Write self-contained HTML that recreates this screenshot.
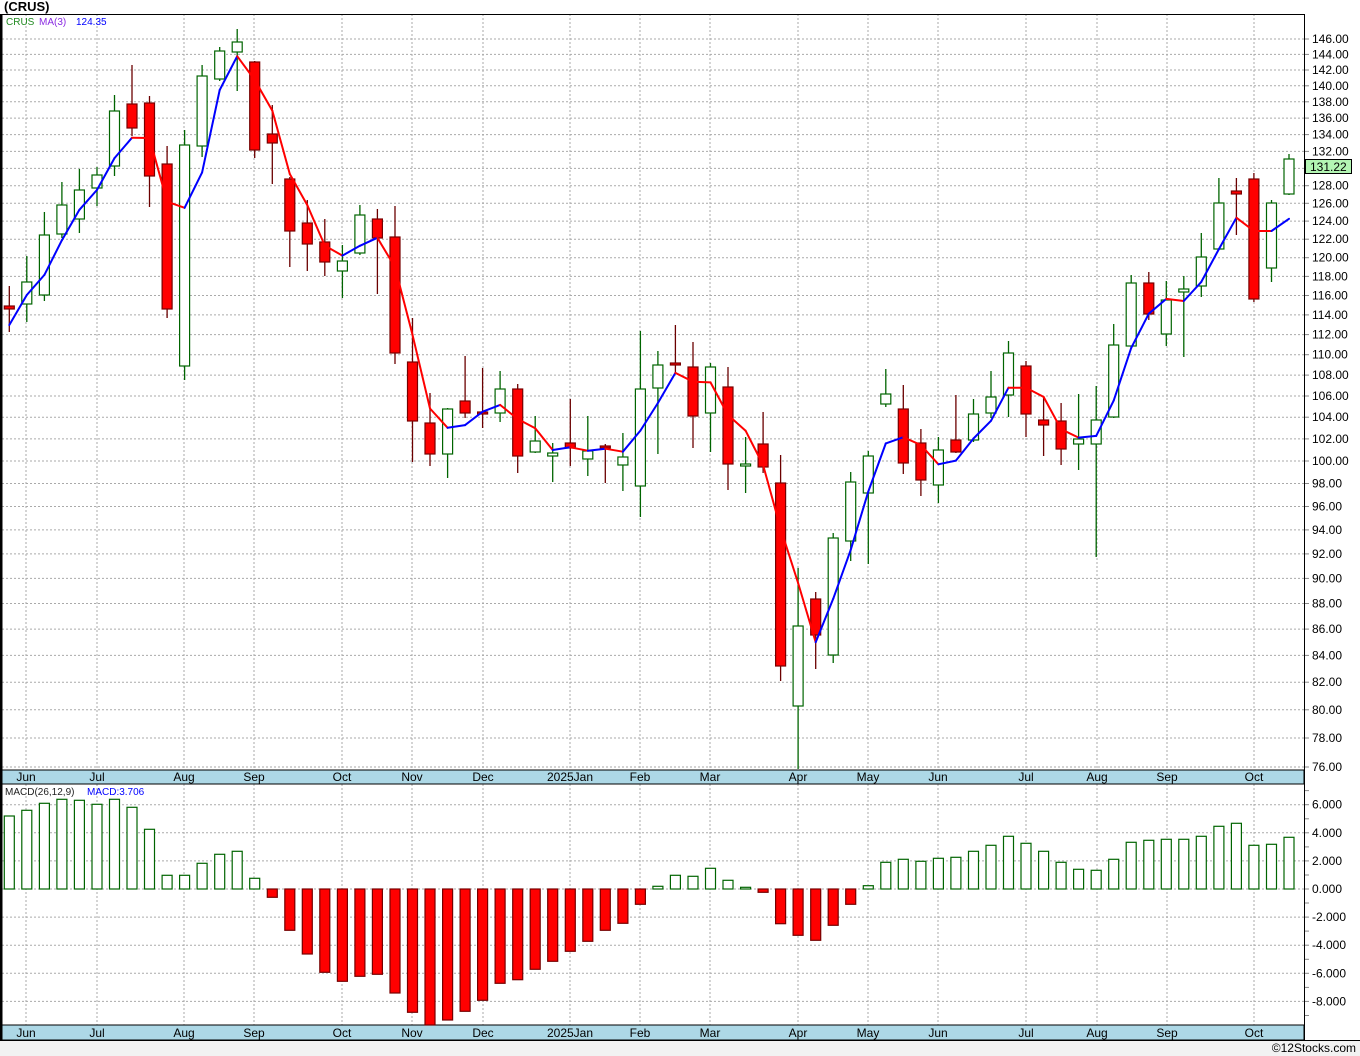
<!DOCTYPE html>
<html><head><meta charset="utf-8"><style>
html,body{margin:0;padding:0;background:#fff;}
svg{display:block;font-family:"Liberation Sans",sans-serif;}
</style></head><body>
<svg id="s" width="1360" height="1056" xmlns="http://www.w3.org/2000/svg"></svg>
<script>
const S=document.getElementById('s');let h='';
h+='<rect x="0" y="0" width="1360" height="1056" fill="#fff"/>';
h+='<rect x="0" y="1041" width="1360" height="15" fill="#f2f2f2"/>';
h+='<text x="1356" y="1052" font-size="12" text-anchor="end" fill="#000">©12Stocks.com</text>';
h+='<text x="4" y="11" font-size="13" font-weight="bold" fill="#000">(CRUS)</text>';
const P=p=>39+1115*Math.log(146/p);
const M=v=>889-14.05*v;
const months=[[26,'Jun'],[97,'Jul'],[184,'Aug'],[254,'Sep'],[342,'Oct'],[412,'Nov'],[483,'Dec'],[570,'2025Jan'],[640,'Feb'],[710,'Mar'],[798,'Apr'],[868,'May'],[938,'Jun'],[1026,'Jul'],[1097,'Aug'],[1167,'Sep'],[1254,'Oct']];
// grids
for(let p=76;p<=146;p+=2){const y=P(p).toFixed(1);h+=`<line x1="2" x2="1304" y1="${y}" y2="${y}" stroke="#aaa" stroke-dasharray="2,2"/>`;
h+=`<line x1="1304" x2="1309" y1="${y}" y2="${y}" stroke="#888"/><text x="1312" y="${(+y+4).toFixed(1)}" font-size="12" fill="#000">${p.toFixed(2)}</text>`;}
for(let v=-8;v<=6;v+=2){const y=M(v).toFixed(1);h+=`<line x1="2" x2="1304" y1="${y}" y2="${y}" stroke="#aaa" stroke-dasharray="2,2"/>`;
h+=`<line x1="1304" x2="1309" y1="${y}" y2="${y}" stroke="#888"/><text x="1312" y="${(+y+4).toFixed(1)}" font-size="12" fill="#000">${v.toFixed(3)}</text>`;}
for(let v=-9;v<=7;v+=2){const y=M(v).toFixed(1);h+=`<line x1="1304" x2="1309" y1="${y}" y2="${y}" stroke="#888"/>`;}
months.forEach(m=>{h+=`<line x1="${m[0]}" x2="${m[0]}" y1="14" y2="769" stroke="#aaa" stroke-dasharray="2,2"/><line x1="${m[0]}" x2="${m[0]}" y1="784" y2="1025" stroke="#aaa" stroke-dasharray="2,2"/>`;});
// strips
[[770,784],[1025,1040]].forEach(r=>{h+=`<rect x="2" y="${r[0]}" width="1302" height="${r[1]-r[0]}" fill="#add8e6" stroke="#000" stroke-width="1"/>`;
months.forEach(m=>{h+=`<text x="${m[0]}" y="${r[1]-3}" font-size="12" text-anchor="middle" fill="#000">${m[1]}</text>`;});});
h+='<line x1="1304.5" x2="1304.5" y1="14" y2="1040" stroke="#000"/>';
h+='<line x1="2" x2="1304" y1="14.5" y2="14.5" stroke="#000"/>';
h+='<rect x="0" y="14" width="2.5" height="1027" fill="#000"/>';
h+='<line x1="0" x2="1360" y1="1040.5" y2="1040.5" stroke="#000"/>';
const C=[[286,306,309,332,'r'],[256,282,304,322,'g'],[212,235,295,301,'g'],[182,205,234,238,'g'],[169,190,219,233,'g'],[167,175,188,206,'g'],[95,111,166,176,'g'],[65,104,128,136,'r'],[96,103,176,207,'r'],[146,164,309,318,'r'],[130,145,366,380,'g'],[65,76,146,157,'g'],[47,51,79,81,'g'],[29,42,52,91,'g'],[61,62,150,158,'r'],[105,134,143,184,'r'],[177,179,231,267,'r'],[200,223,244,271,'r'],[219,242,262,276,'r'],
[245,261,271,298,'g'],[205,215,253,255,'g'],[209,219,238,294,'r'],[206,237,353,364,'r'],[318,362,421,462,'r'],[393,423,454,466,'r'],[408,409,454,478,'g'],[356,401,413,418,'r'],[368,412,413,428,'r'],[371,389,413,422,'g'],[384,389,456,473,'r'],[416,441,452,453,'g'],[443,453,456,482,'g'],[399,443,448,466,'r'],[416,451,459,476,'g'],[444,446,447,483,'r'],[433,457,465,491,'g'],[331,389,486,517,'g'],[351,365,388,454,'g'],
[325,363,365,373,'r'],[342,367,416,448,'r'],[363,367,413,452,'g'],[367,387,464,490,'r'],[437,464,466,493,'g'],[412,444,467,473,'r'],[455,483,666,681,'r'],[568,626,706,769,'g'],[592,599,635,669,'r'],[533,538,655,663,'g'],[472,482,541,561,'g'],[451,456,493,564,'g'],[369,394,404,407,'g'],[385,409,463,474,'r'],[429,443,480,496,'r'],[437,450,485,503,'g'],[395,440,452,453,'r'],[399,414,440,442,'g'],[371,397,413,418,'g'],
[341,353,395,417,'g'],[361,366,414,437,'r'],[397,420,425,456,'r'],[403,421,449,465,'r'],[394,439,444,470,'g'],[386,420,444,557,'g'],[324,345,417,418,'g'],[275,283,346,347,'g'],[272,283,314,320,'r'],[281,300,334,346,'g'],[276,289,292,357,'g'],[233,257,286,297,'g'],[178,203,249,250,'g'],[178,191,194,235,'r'],[173,179,299,302,'r'],[200,203,268,282,'g'],[154,159,194,195,'g']];
const X=i=>9.3+i*17.53;
// MACD
const MB=[108,91,70,58,61,73,58,82,148,286,286,250,223,214,295,352,451,522,577,604,589,583,639,697,735,720,694,661,610,599,568,544,514,484,451,430,373,319,286,289,265,301,322,337,431,466,481,436,373,317,247,238,244,235,232,214,196,169,190,214,247,268,271,238,187,181,178,178,169,139,130,196,193,172];
MB.forEach((Y,i)=>{let y=780+Y/3;const x=X(i)-5;const z=889;
if(y<z){h+=`<rect x="${x.toFixed(1)}" y="${y.toFixed(1)}" width="10" height="${(z-y).toFixed(1)}" fill="#fff" stroke="#006400" stroke-width="1.2"/>`;}
else{if(i==24)y=1025;h+=`<rect x="${x.toFixed(1)}" y="${z}" width="10" height="${(y-z).toFixed(1)}" fill="#f00" stroke="#700" stroke-width="1.2"/>`;}});
// candles
C.forEach((c,i)=>{const x=X(i);const g=c[4]=='g';const sc=g?'#006400':'#6b0000';
h+=`<line x1="${x.toFixed(1)}" x2="${x.toFixed(1)}" y1="${c[0]}" y2="${c[3]}" stroke="${sc}" stroke-width="1.3"/>`;
h+=`<rect x="${(x-5).toFixed(1)}" y="${c[1]}" width="10" height="${Math.max(2,c[2]-c[1])}" fill="${g?'#fff':'#f00'}" stroke="${g?'#006400':'#700'}" stroke-width="1.2"/>`;});
// MA
const pr=y=>146*Math.exp(-(y-39)/1115);
const cl=C.map(c=>pr(c[4]=='g'?c[1]:c[2]));
const ma=[325,295];for(let i=2;i<C.length;i++)ma.push(P((cl[i]+cl[i-1]+cl[i-2])/3));
for(let i=1;i<ma.length;i++){const col=ma[i]<ma[i-1]-0.3?'#00f':'#f00';
h+=`<line x1="${X(i-1).toFixed(1)}" y1="${ma[i-1].toFixed(1)}" x2="${X(i).toFixed(1)}" y2="${ma[i].toFixed(1)}" stroke="${col}" stroke-width="2" stroke-linecap="round"/>`;}
// legends
h+='<text x="6" y="25" font-size="10"><tspan fill="#228b22">CRUS</tspan><tspan x="39" fill="#8a2be2">MA(3)</tspan><tspan x="76" fill="#00f">124.35</tspan></text>';
h+='<text x="5" y="795" font-size="10"><tspan fill="#222">MACD(26,12,9)</tspan><tspan x="87" fill="#00f">MACD:3.706</tspan></text>';
h+='<rect x="1305.5" y="159.5" width="46" height="14" fill="#b3f5b3" stroke="#000"/><text x="1310" y="171" font-size="12" fill="#000">131.22</text>';
S.innerHTML=h;
</script>
</body></html>
